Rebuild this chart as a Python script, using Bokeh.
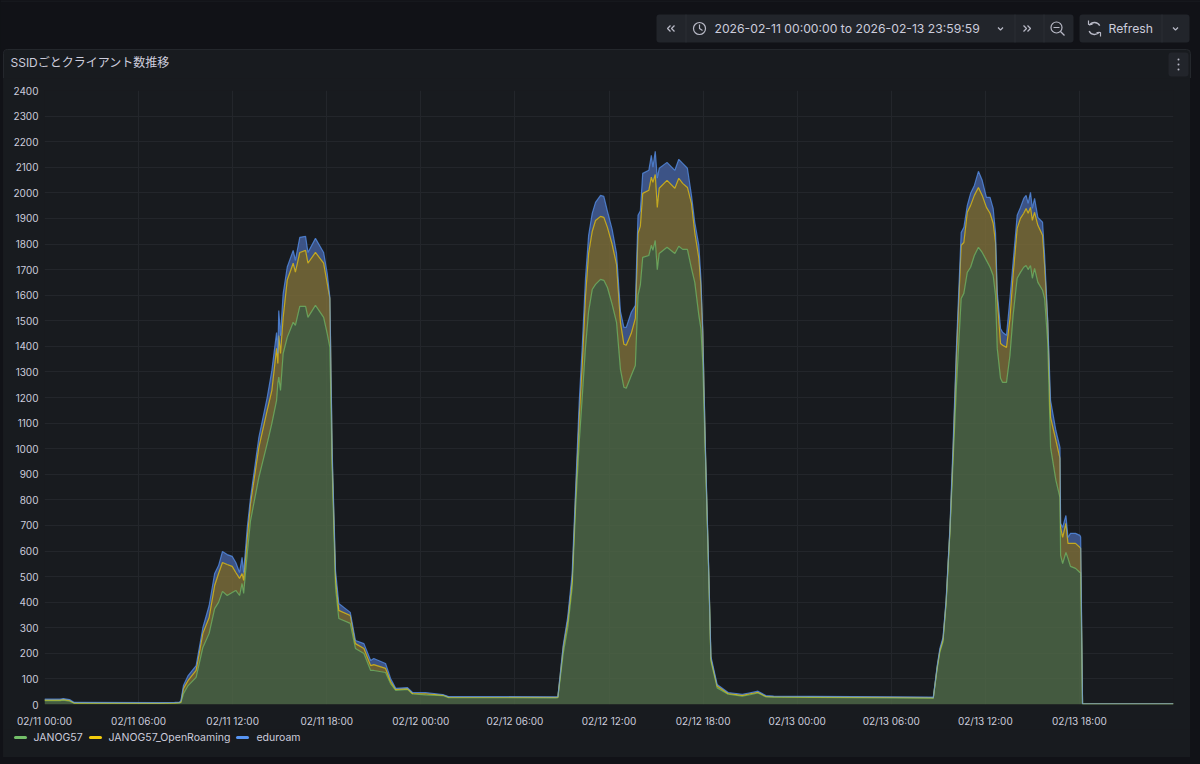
from bokeh.plotting import figure, ColumnDataSource
from bokeh.models import FixedTicker, DatetimeTickFormatter, Range1d, Spacer
from bokeh.layouts import column, row
from bokeh.core.properties import value
from bokeh.embed import file_html
from bokeh.resources import INLINE

BASE_MS = 1770768000000  # 2026-02-11 00:00 as naive UTC
HOUR_MS = 3600000

hours = [0.0,1.0,1.2,1.6,1.9,7.3,8.3,8.6,8.7,8.86,9.16,9.67,10.1,10.5,10.85,11.1,11.35,11.65,11.97,12.2,12.44,12.6,12.7,12.93,
 13.14,13.67,14.2,14.5,14.8,14.88,14.94,15.05,15.22,15.48,15.86,16.0,16.28,16.65,16.8,17.28,17.8,18.03,18.2,18.35,18.56,18.77,
 19.5,19.83,20.37,20.8,21.0,21.75,22.07,22.4,23.15,23.47,24.3,25.4,25.77,32.6,32.74,
 33.08,33.37,33.65,33.87,34.1,34.3,34.5,34.7,34.93,35.14,35.46,35.67,35.9,36.2,36.48,36.73,36.95,37.1,37.42,37.68,37.85,38.0,
 38.15,38.54,38.7,38.8,38.95,39.08,39.2,39.7,40.2,40.45,40.7,41.0,41.26,41.47,41.73,41.86,41.98,42.15,42.37,42.5,42.9,43.6,
 44.5,45.0,45.5,46.0,46.5,56.6,56.68,56.93,57.1,57.3,57.5,57.74,57.95,58.16,58.46,58.63,58.85,59.06,59.3,59.56,59.8,60.07,
 60.3,60.5,60.65,60.76,60.97,61.1,61.35,61.57,61.77,62.03,62.24,62.45,62.6,62.73,62.88,63.0,63.14,63.35,63.65,63.78,63.98,
 64.16,64.5,64.76,64.8,64.93,65.14,65.27,65.43,65.75,66.03,66.08,66.2,72.0]

janog57 = [15,15,17,13,5,4,5,6,8,42,74,106,223,278,375,399,442,426,438,446,426,473,434,590,
 719,888,1020,1099,1189,1255,1280,1228,1372,1435,1494,1482,1556,1556,1513,1560,1513,1450,1396,915,457,336,
 317,219,199,133,133,125,82,55,59,41,38,35,27,26,27,
 200,301,457,770,1024,1208,1396,1537,1622,1642,1662,1658,1630,1564,1494,1310,1240,1236,1286,1325,1599,1640,
 1748,1755,1795,1775,1814,1700,1763,1787,1763,1791,1779,1779,1705,1650,1521,1470,1337,970,490,170,65,40,
 33,38,45,30,29,25,25,140,205,245,395,670,962,1247,1587,1607,1689,1709,1755,1787,1767,1736,
 1709,1677,1599,1392,1275,1259,1259,1365,1521,1666,1689,1709,1716,1700,1716,1666,1705,1650,1619,1587,1415,
 1005,876,809,583,551,594,571,540,532,516,516,2,2]

openroaming = [3,3,3,3,1,1,1,1,2,20,20,27,55,62,90,113,113,121,102,70,67,39,51,63,
 67,117,130,129,203,78,162,144,141,224,231,208,211,219,212,207,212,196,191,39,40,32,
 31,19,20,19,23,16,8,4,3,2,4,2,2,2,2,
 23,27,28,43,102,129,199,226,227,250,246,246,235,235,226,184,168,168,165,184,243,230,
 250,255,266,266,258,243,255,262,255,266,258,242,254,195,223,168,117,20,5,8,7,3,
 3,4,3,2,2,2,1,6,7,9,8,9,39,125,208,199,235,242,235,234,223,207,
 211,204,207,195,136,145,137,144,156,195,211,211,223,220,227,226,219,223,215,129,79,
 117,156,153,109,102,114,59,90,98,98,94,1,1]

eduroam = [3,3,3,3,2,2,2,2,5,12,19,19,23,47,47,31,43,39,39,39,23,63,31,39,
 23,39,50,78,62,39,98,70,93,51,50,46,59,55,42,55,42,39,4,27,27,27,
 12,12,19,20,24,19,12,4,4,4,5,2,2,2,2,
 8,16,27,27,55,71,71,71,71,71,82,82,63,58,43,43,66,70,82,51,70,60,
 78,78,86,59,90,114,78,70,70,74,78,75,31,40,51,28,3,10,5,10,6,4,
 4,4,4,3,2,2,1,6,7,8,7,9,27,28,50,59,27,47,39,63,59,39,
 62,58,39,24,59,51,47,78,51,51,43,58,51,39,59,47,54,31,51,40,5,
 67,39,43,16,39,31,23,39,39,47,45,0,0]

series_names = ["JANOG57", "JANOG57_OpenRoaming", "eduroam"]
line_colors = ["#73BF69", "#F2CC0C", "#5794F2"]
fill_colors = ["#506a48", "#80713b", "#4662a0"]
y_ticks = list(range(0, 2500, 100))
x_tick_hours = list(range(0, 72, 6))
title_text = "SSIDごとクライアント数推移"
range_text = "2026-02-11 00:00:00 to 2026-02-13 23:59:59"
refresh_text = "Refresh"

PAGE = "#111217"
PANEL = "#181b1f"
BTN = "#22252b"
SEP = "#2b2e34"
TXT = "#ccccdc"
ICON = "#b8b9c6"

# ---- header strip: page band, panel top edge, time controls, panel title ----
hd = figure(width=1200, height=78, x_range=Range1d(0, 1200), y_range=Range1d(78, 0), output_backend="svg",
            toolbar_location=None, x_axis_location=None, y_axis_location=None,
            min_border=0, min_border_left=0, min_border_right=0, min_border_top=0, min_border_bottom=0)
hd.grid.visible = False
hd.outline_line_color = None
hd.background_fill_color = PAGE
hd.border_fill_color = PAGE
hd.frame_align = False
hd.quad(left=[0], right=[1200], top=[0], bottom=[1], fill_color="#1d1f24", line_color=None)
hd.quad(left=[3], right=[1190], top=[49], bottom=[100], fill_color=PANEL, line_color="#24272c", border_radius=4)
hd.quad(left=[656, 1079, 1168], right=[1073, 1189, 1188], top=[14, 14, 52], bottom=[42, 42, 76],
        fill_color=BTN, line_color=None, border_radius=3)
hd.quad(left=[685, 1014, 1043, 1161], right=[686, 1015, 1044, 1162], top=[14] * 4, bottom=[42] * 4,
        fill_color=SEP, line_color=None)


def htext(fig, x, y, s, size, color=TXT, font="Inter, 'Noto Sans CJK JP'"):
    fig.text(x=[x], y=[y], text=[s], text_font=value(font), text_font_size=size, text_color=color,
             text_baseline="middle", text_align="left")


htext(hd, 10, 62, title_text, "12px", "#ccccdc")
htext(hd, 714, 28, range_text, "12.2px", TXT)
htext(hd, 1108, 28, refresh_text, "12.2px", TXT)

# icons
for (a, b) in [(667, 670), (671, 674), (1030, 1027), (1026, 1023)]:
    hd.line([b, a, b], [25, 28, 31], line_color=ICON, line_width=1.3)
hd.circle(x=[699], y=[28], radius=6, fill_color=None, line_color=ICON, line_width=1.2)
hd.line([699, 699, 702], [24, 28, 30], line_color=ICON, line_width=1.2)
hd.circle(x=[1056], y=[27], radius=5.5, fill_color=None, line_color=ICON, line_width=1.2)
hd.line([1053, 1059], [27, 27], line_color=ICON, line_width=1.2)
hd.line([1060, 1064], [31, 35], line_color=ICON, line_width=1.2)
hd.arc(x=[1094], y=[28], radius=6, start_angle=[0.5], end_angle=[2.6], line_color=ICON, line_width=1.3)
hd.arc(x=[1094], y=[28], radius=6, start_angle=[3.6], end_angle=[5.7], line_color=ICON, line_width=1.3)
hd.line([1088, 1088, 1092], [20, 24, 24], line_color=ICON, line_width=1.2)
hd.line([1100, 1100, 1096], [36, 32, 32], line_color=ICON, line_width=1.2)
for cx in (1000, 1175):
    hd.line([cx - 2.5, cx, cx + 2.5], [27, 29.5, 27], line_color=ICON, line_width=1.2)
hd.circle(x=[1178] * 3, y=[59, 64, 69], radius=1, fill_color=ICON, line_color=None)

# ---- chart ----
t = [BASE_MS + h * HOUR_MS for h in hours]
src = ColumnDataSource(dict(t=t, JANOG57=janog57, JANOG57_OpenRoaming=openroaming, eduroam=eduroam))

p = figure(width=1187, height=651, x_axis_type="datetime", output_backend="svg", toolbar_location=None,
           x_range=Range1d(BASE_MS, BASE_MS + 72 * HOUR_MS), y_range=Range1d(0, 2400),
           min_border_left=41, min_border_right=17, min_border_top=12, min_border_bottom=25)
p.background_fill_color = PANEL
p.border_fill_color = PANEL
p.outline_line_color = None
p.frame_align = False

p.varea_stack(stackers=series_names, x="t", source=src, fill_color=fill_colors, fill_alpha=0.8)
p.vline_stack(stackers=series_names, x="t", source=src, line_color=line_colors, line_width=1.2, line_alpha=0.72)

p.xaxis.ticker = FixedTicker(ticks=[BASE_MS + h * HOUR_MS for h in x_tick_hours])
fmt = "%m/%d %H:%M"
p.xaxis.formatter = DatetimeTickFormatter(milliseconds=fmt, seconds=fmt, minsec=fmt, minutes=fmt, hourmin=fmt,
                                          hours=fmt, days=fmt, months=fmt, years=fmt)
p.yaxis.ticker = FixedTicker(ticks=y_ticks)
for ax in (p.xaxis[0], p.yaxis[0]):
    ax.axis_line_color = None
    ax.major_tick_line_color = None
    ax.minor_tick_line_color = None
    ax.major_label_text_color = TXT
    ax.major_label_text_font = "Inter"
    ax.major_label_text_font_size = "10px"
p.xaxis.major_label_standoff = 4
p.yaxis.major_label_standoff = 0
for g in (p.xgrid[0], p.ygrid[0]):
    g.grid_line_color = "#23262b"
    g.grid_line_width = 1
    g.level = "underlay"

# ---- legend strip below the chart ----
ft = figure(width=1187, height=28, x_range=Range1d(3, 1190), y_range=Range1d(757, 729), output_backend="svg",
            toolbar_location=None, x_axis_location=None, y_axis_location=None,
            min_border=0, min_border_left=0, min_border_right=0, min_border_top=0, min_border_bottom=0)
ft.grid.visible = False
ft.outline_line_color = None
ft.background_fill_color = PANEL
ft.border_fill_color = PANEL
ft.frame_align = False
key_x = [15, 90, 237]
text_x = [33, 108, 256]
for kx, tx, name, c in zip(key_x, text_x, series_names, line_colors):
    ft.line([kx, kx + 10], [737, 737], line_color=c, line_width=3, line_cap="round")
    htext(ft, tx, 737, name, "10.5px", TXT, "Inter")

layout = column(hd,
                row(Spacer(width=3, height=679),
                    column(p, ft, spacing=0, styles={"background": PANEL}), spacing=0),
                width=1200, height=764, spacing=0,
                styles={"position": "fixed", "left": "0", "top": "0", "background": PAGE})

open("out.html", "w").write(file_html(layout, INLINE))
